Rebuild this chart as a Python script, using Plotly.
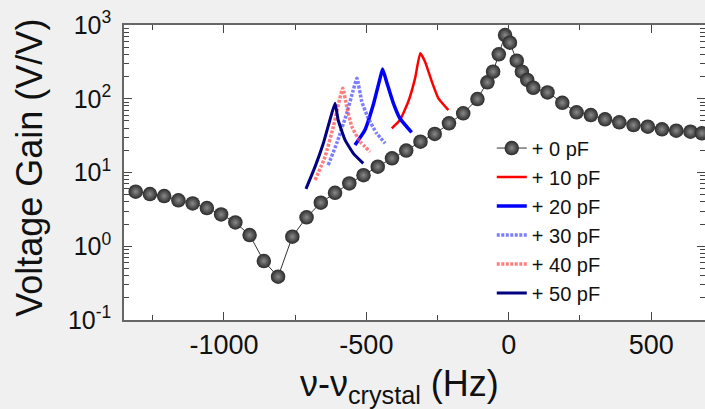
import plotly.graph_objects as go

# ---- data ----
f0 = [-1310, -1260, -1210, -1160, -1110, -1060, -1010, -960, -910, -860, -810, -760,
      -710, -660, -610, -560, -510, -460, -410, -360, -310, -260, -210, -160, -110,
      -75, -55, -35, -13, 4, 28, 46, 65, 86, 136, 188, 238, 288, 338, 388, 438, 488,
      538, 588, 638, 678]
g0 = [5.5, 5.1, 4.8, 4.2, 3.8, 3.3, 2.7, 2.1, 1.42, 0.63, 0.386, 1.35,
      2.47, 3.9, 5.3, 7.1, 9.2, 12.0, 15.6, 19.8, 26.2, 33.3, 46.5, 63.5, 99,
      167, 233, 401, 731, 575, 328, 233, 180, 141, 122, 88, 65.5, 60, 52.6, 48, 44, 41.8,
      38.5, 36.9, 35.7, 34]

c10_f = [-411, -382, -353, -329, -311, -294, -270, -247, -212]
c10_g = [39.7, 51.5, 91, 189, 413, 318, 170, 101, 70]
c20_f = [-540, -505, -476, -452, -443, -429, -405, -382, -341]
c20_g = [23.6, 37.7, 82, 189, 253, 170, 86.7, 54, 35]
c30_f = [-634, -604, -569, -546, -533, -516, -493, -464, -434]
c30_g = [12.6, 24.9, 63.5, 131, 189, 91, 54, 34, 24.9]
c40_f = [-680, -645, -616, -583, -569, -551, -522, -487]
c40_g = [7.9, 16.4, 41.8, 139, 78, 41.8, 26.2, 19.1]
c50_f = [-712, -680, -651, -628, -610, -599, -575, -546, -511]
c50_g = [6.0, 12, 24.9, 51.5, 86.7, 51.5, 27.6, 18.2, 13.3]

names = ["+ 0 pF", "+ 10 pF", "+ 20 pF", "+ 30 pF", "+ 40 pF", "+ 50 pF"]

x_ticks = [-1000, -500, 0, 500]
x_ticktext = ["-1000", "-500", "0", "500"]
x_minor = [-1250, -750, -250, 250]
y_ticks = [0.1, 1, 10, 100, 1000]
y_ticktext = ["10<sup>-1</sup>", "10<sup>0</sup>", "10<sup>1</sup>", "10<sup>2</sup>", "10<sup>3</sup>"]
y_minor = [m * 10 ** e for e in (-1, 0, 1, 2) for m in range(2, 10)]

# ---- figure ----
fig = go.Figure()
fig.add_trace(go.Scatter(
    x=f0, y=g0, mode="lines+markers", name=names[0],
    line=dict(color="#333333", width=1),
    marker=dict(size=14.5, color="#2a2a2a",
                gradient=dict(type="radial", color="#8a8a8a"),
                line=dict(width=0))))

curves = [
    (c10_f, c10_g, dict(color="#ff0000", width=2.5)),
    (c20_f, c20_g, dict(color="#0000ff", width=3.5)),
    (c30_f, c30_g, dict(color="rgba(70,70,255,0.7)", width=3.5, dash="3px,1.5px")),
    (c40_f, c40_g, dict(color="rgba(255,70,70,0.7)", width=3.5, dash="3px,1.5px")),
    (c50_f, c50_g, dict(color="#000080", width=3)),
]
for (fx, gy, ln), nm in zip(curves, names[1:]):
    fig.add_trace(go.Scatter(x=fx, y=gy, mode="lines", name=nm,
                             line=dict(shape="spline", smoothing=0.4, **ln)))

axis_common = dict(
    ticks="inside", ticklen=8, tickwidth=1.3, tickcolor="#444444",
    showline=True, linecolor="#666666", linewidth=1.5, mirror="ticks",
    showgrid=False, zeroline=False, automargin=False,
)
fig.update_xaxes(range=[-1351, 689], tickmode="array", tickvals=x_ticks,
                 ticktext=x_ticktext, tickfont=dict(size=27, color="#111111"),
                 minor=dict(tickmode="array", tickvals=x_minor, ticks="inside",
                            ticklen=5, tickcolor="#444444", showgrid=False),
                 **axis_common)
fig.update_yaxes(type="log", range=[-1, 3], tickmode="array", tickvals=y_ticks,
                 ticktext=y_ticktext, tickfont=dict(size=25, color="#111111"),
                 ticklabelstandoff=6,
                 minor=dict(tickmode="array", tickvals=y_minor, ticks="inside",
                            ticklen=5, tickcolor="#444444", showgrid=False),
                 **axis_common)

fig.update_layout(
    width=705, height=409,
    margin=dict(l=124, r=0, t=25, b=89),
    paper_bgcolor="#f0f0f0", plot_bgcolor="white",
    font=dict(family="Liberation Sans, Arial, sans-serif", color="#111111"),
    legend=dict(x=0.633, y=0.649, xanchor="left", yanchor="top",
                bgcolor="rgba(0,0,0,0)", font=dict(size=20, color="#111111"),
                tracegroupgap=0),
    annotations=[
        dict(text="Voltage Gain (V/V)", xref="paper", yref="paper",
             x=-0.164, y=0.515, xanchor="center", yanchor="middle",
             textangle=-90, showarrow=False, font=dict(size=36, color="#111111")),
        dict(text="ν-ν<sub>crystal</sub> (Hz)", xref="paper", yref="paper",
             x=0.4735, y=-0.225, xanchor="center", yanchor="middle",
             showarrow=False, font=dict(size=36, color="#111111")),
    ],
)

fig.write_html(
    "out.html",
    config={"displayModeBar": False},
    post_script="document.body.style.margin='0';"
                "document.body.style.background='#f0f0f0';",
)
